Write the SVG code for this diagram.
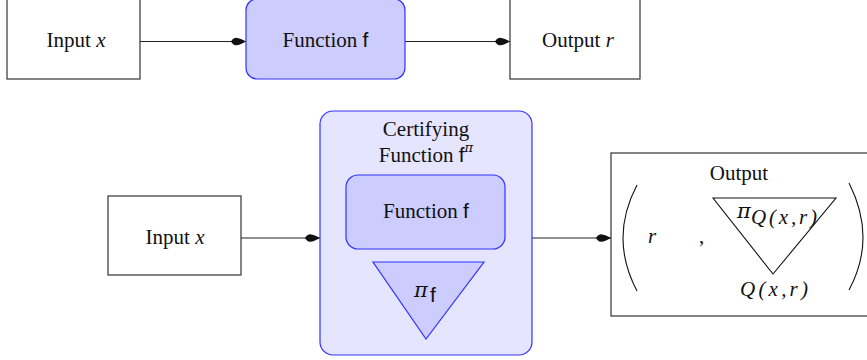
<svg xmlns="http://www.w3.org/2000/svg" width="867" height="360" viewBox="0 0 867 360">
<defs>
<style>
.box{fill:#ffffff;stroke:#333333;stroke-width:1.2}
.fn{fill:#ccccff;stroke:#3333ff;stroke-width:1.2}
.cert{fill:#e5e5ff;stroke:#3333ff;stroke-width:1.2}
.edge{fill:none;stroke:#222222;stroke-width:1.1}
.line{fill:none;stroke:#111111;stroke-width:1.1}
text{font-family:"Liberation Serif","Times New Roman",serif;font-size:21px;fill:#111111}
.it{font-style:italic}
.pi{font-family:"DejaVu Serif",serif;font-style:italic}
.sf{font-family:"Liberation Sans",Arial,sans-serif}
.mid{text-anchor:middle}
</style>
<marker id="tip" viewBox="-16 -5 17 10" refX="0" refY="0" markerWidth="17" markerHeight="10" markerUnits="userSpaceOnUse" orient="auto">
<path d="M0,0 C-3,-1.5 -7,-3.8 -10,-3.8 C-12.5,-3.8 -14,-1.5 -15,0 C-14,1.5 -12.5,3.8 -10,3.8 C-7,3.8 -3,1.5 0,0 Z" fill="#111111"/>
</marker>
</defs>
<rect width="867" height="360" fill="#ffffff"/>

<g id="connectors">
<line class="edge" x1="140" y1="41.5" x2="246" y2="41.5" marker-end="url(#tip)"/>
<line class="edge" x1="405" y1="41.5" x2="510" y2="41.5" marker-end="url(#tip)"/>
<line class="edge" x1="241" y1="238" x2="320" y2="238" marker-end="url(#tip)"/>
<line class="edge" x1="532" y1="238" x2="611" y2="238" marker-end="url(#tip)"/>
</g>

<g id="input-top">
<rect class="box" x="7" y="-1" width="133" height="80"/>
<text class="mid" x="76" y="47">Input <tspan class="it">x</tspan></text>
</g>

<g id="function-top">
<rect class="fn" x="246" y="-1" width="159" height="80" rx="11" ry="11"/>
<text class="mid" x="325.5" y="47">Function <tspan class="sf">f</tspan></text>
</g>

<g id="output-top">
<rect class="box" x="510" y="-1" width="130" height="80"/>
<text class="mid" x="578" y="47">Output <tspan class="it">r</tspan></text>
</g>

<g id="input-bottom">
<rect class="box" x="108" y="196" width="133" height="79"/>
<text class="mid" x="175" y="244">Input <tspan class="it">x</tspan></text>
</g>

<g id="certifying-function">
<rect class="cert" x="320" y="111" width="212" height="244" rx="13" ry="13"/>
<text class="mid" x="426" y="136">Certifying</text>
<text class="mid" x="426" y="162">Function <tspan class="sf">f</tspan><tspan class="pi" font-size="13" dy="-10">π</tspan></text>
<g id="function-inner">
<rect class="fn" x="346" y="175" width="159" height="74" rx="12" ry="12"/>
<text class="mid" x="426" y="218">Function <tspan class="sf">f</tspan></text>
</g>
<g id="proof-f">
<polygon class="fn" points="373,262 484,262 426,339"/>
<text x="414" y="297" class="pi" font-size="22">π</text>
<text x="430" y="302" class="sf" font-size="16">f</text>
</g>
</g>

<g id="output-bottom">
<rect class="box" x="611" y="153" width="258" height="163"/>
<text class="mid" x="739" y="180">Output</text>
<path class="line" d="M637,185 Q609,238 637,291"/>
<path class="line" d="M849,183 Q877,238 849,290"/>
<text class="it" x="648" y="243">r</text>
<text x="699" y="243">,</text>
<g id="proof-q">
<polygon points="713,198 836,198 773,274" fill="#ffffff" stroke="#111111" stroke-width="1.1"/>
<text class="pi" x="737" y="218" font-size="17">π</text>
<text class="it" x="751" y="224" font-size="20" textLength="66" lengthAdjust="spacing">Q(x,r)</text>
</g>
<text class="it" x="740" y="296" textLength="68" lengthAdjust="spacing">Q(x,r)</text>
</g>
</svg>
